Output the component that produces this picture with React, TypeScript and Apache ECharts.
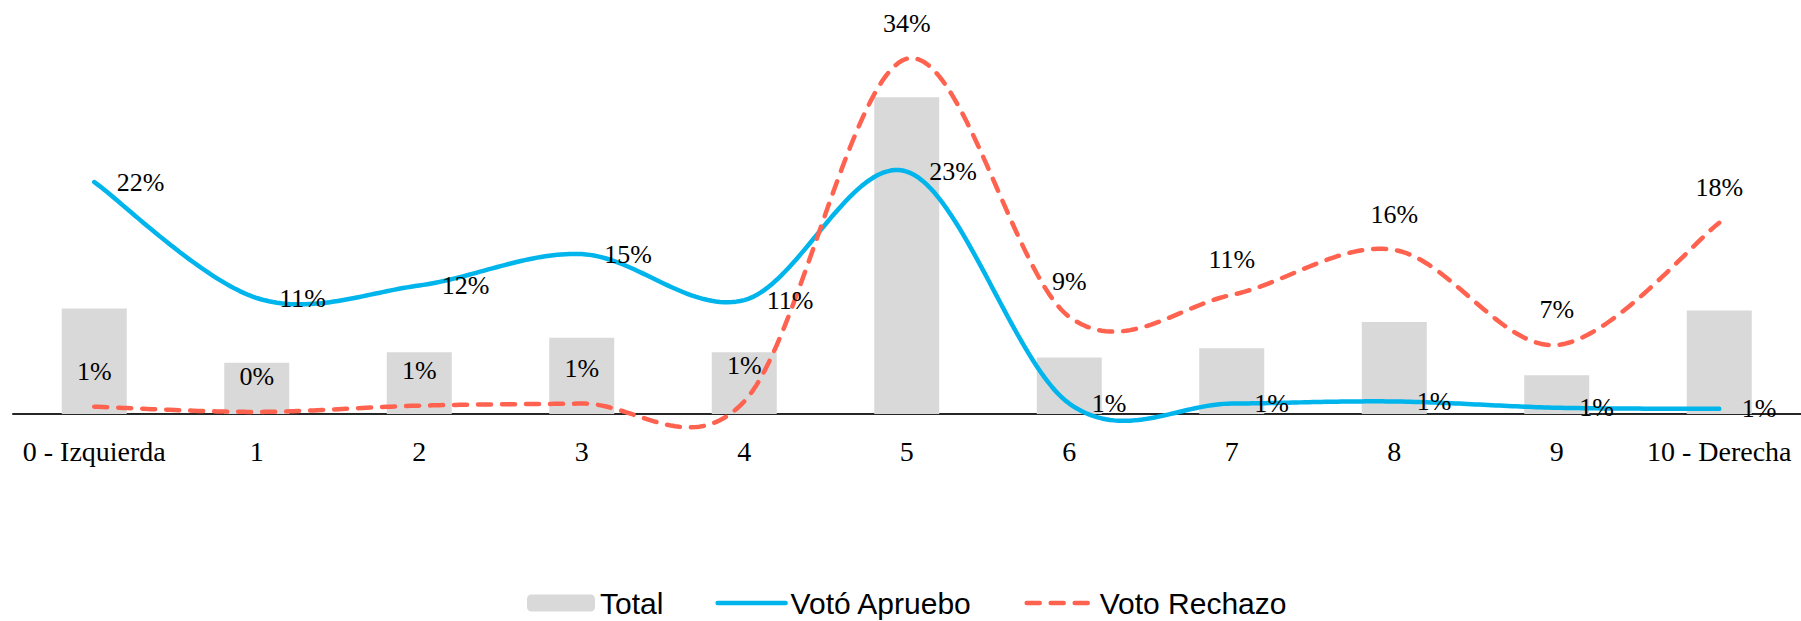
import React, { useEffect, useRef } from "react";
import * as echarts from "echarts";

const categories = ["0 - Izquierda", "1", "2", "3", "4", "5", "6", "7", "8", "9", "10 - Derecha"];
const total = [10.1, 4.9, 5.9, 7.3, 5.9, 30.3, 5.4, 6.3, 8.8, 3.7, 9.9];
const apruebo = [22.2, 11.1, 12.3, 15.3, 10.9, 23.2, 1.0, 1.0, 1.2, 0.6, 0.5];
const rechazo = [0.7, 0.2, 0.8, 1.0, 1.2, 34.0, 9.3, 11.4, 15.7, 6.6, 18.3];

const seriesNames = ["Total", "Votó Apruebo", "Voto Rechazo"];

const BLUE = "#00B4EC";
const RED = "#FF624F";
const GRAY = "#D9D9D9";
const DASH = [13, 11];

const pct = (p: any) => Math.round(p.value) + "%";

const dist = (a: number[], b: number[]) => Math.hypot(a[0] - b[0], a[1] - b[1]);

// Excel-like smoothed curve (Bezier with 1/6 tangents, clamped), sampled into points
function smoothPoints(pts: number[][], steps = 40): number[][] {
  const out: number[][] = [pts[0]];
  for (let i = 0; i < pts.length - 1; i++) {
    const p0 = pts[i - 1] || pts[i];
    const p1 = pts[i];
    const p2 = pts[i + 1];
    const p3 = pts[i + 2] || pts[i + 1];
    const d12 = dist(p1, p2);
    const d02 = dist(p0, p2);
    const d13 = dist(p1, p3);
    let f = 1 / 6;
    let g = 1 / 6;
    if (d02 > 0 && d02 / 6 > d12 / 2) f = d12 / (2 * d02);
    if (d13 > 0 && d13 / 6 > d12 / 2) g = d12 / (2 * d13);
    const c1 = [p1[0] + f * (p2[0] - p0[0]), p1[1] + f * (p2[1] - p0[1])];
    const c2 = [p2[0] - g * (p3[0] - p1[0]), p2[1] - g * (p3[1] - p1[1])];
    for (let k = 1; k <= steps; k++) {
      const t = k / steps;
      const u = 1 - t;
      const a = u * u * u, b = 3 * u * u * t, c = 3 * u * t * t, d = t * t * t;
      out.push([
        a * p1[0] + b * c1[0] + c * c2[0] + d * p2[0],
        a * p1[1] + b * c1[1] + c * c2[1] + d * p2[1],
      ]);
    }
  }
  return out;
}

function curveSeries(id: string, values: number[], color: string, dashed: boolean, z: number) {
  return {
    id,
    name: id,
    type: "custom",
    data: values.map((v, i) => [i, v]),
    encode: { x: 0, y: 1 },
    clip: false,
    silent: true,
    z,
    renderItem: (params: any, api: any) => {
      if (params.dataIndex !== 0) return { type: "group", children: [] };
      const pts = values.map((v, i) => api.coord([i, v]));
      return {
        type: "polyline",
        shape: { points: smoothPoints(pts) },
        style: {
          stroke: color,
          lineWidth: 4.5,
          fill: null,
          lineCap: "round",
          lineJoin: "round",
          lineDash: dashed ? DASH : null,
        },
        silent: true,
      };
    },
  };
}

function labelSeries(name: string, values: number[], color: string, dashed: boolean, position: string) {
  return {
    name,
    type: "line",
    data: values,
    clip: false,
    symbol: "circle",
    symbolSize: 1,
    showSymbol: true,
    color,
    itemStyle: { color: "rgba(0,0,0,0)" },
    lineStyle: { color, width: 4.5, type: dashed ? DASH : "solid", cap: "round", opacity: 0 },
    label: {
      show: true,
      position,
      distance: 22,
      formatter: pct,
      fontFamily: "Liberation Serif",
      fontSize: 26,
      color: "#000",
    },
    silent: true,
    z: 6,
  };
}

export default function App() {
  const ref = useRef<HTMLDivElement>(null);
  useEffect(() => {
    if (!ref.current) return;
    const chart = echarts.init(ref.current, undefined, { renderer: "svg" });
    chart.setOption({
      animation: false,
      backgroundColor: "#ffffff",
      grid: { left: 13, right: 0.5, top: 37.8, bottom: 207, containLabel: false },
      legend: {
        data: [
          { name: seriesNames[0] },
          { name: seriesNames[1], lineStyle: { opacity: 1, color: BLUE, width: 4.5 } },
          { name: seriesNames[2], lineStyle: { opacity: 1, color: RED, width: 4.5, type: DASH } },
        ],
        left: 527,
        top: 588,
        padding: 0,
        itemWidth: 68,
        itemHeight: 17,
        itemGap: 52,
        selectedMode: false,
        textStyle: { fontFamily: "Liberation Sans", fontSize: 30, lineHeight: 30, color: "#000" },
      },
      xAxis: {
        type: "category",
        data: categories,
        boundaryGap: true,
        axisTick: { show: false },
        axisLine: { lineStyle: { color: "#262626", width: 2 } },
        axisLabel: {
          margin: 23,
          fontFamily: "Liberation Serif",
          fontSize: 28,
          color: "#000",
          interval: 0,
        },
      },
      yAxis: {
        type: "value",
        min: 0,
        max: 36,
        show: false,
        splitLine: { show: false },
      },
      series: [
        {
          name: seriesNames[0],
          type: "bar",
          data: total,
          barWidth: 65,
          itemStyle: { color: GRAY },
          silent: true,
          z: 1,
        },
        labelSeries(seriesNames[1], apruebo, BLUE, false, "right"),
        labelSeries(seriesNames[2], rechazo, RED, true, "top"),
        curveSeries("apruebo-curve", apruebo, BLUE, false, 3),
        curveSeries("rechazo-curve", rechazo, RED, true, 4),
      ],
    });
    return () => chart.dispose();
  }, []);
  return (
    <div
      ref={ref}
      style={{ position: "fixed", left: 0, top: 0, width: 1801, height: 621, background: "#fff" }}
    />
  );
}
